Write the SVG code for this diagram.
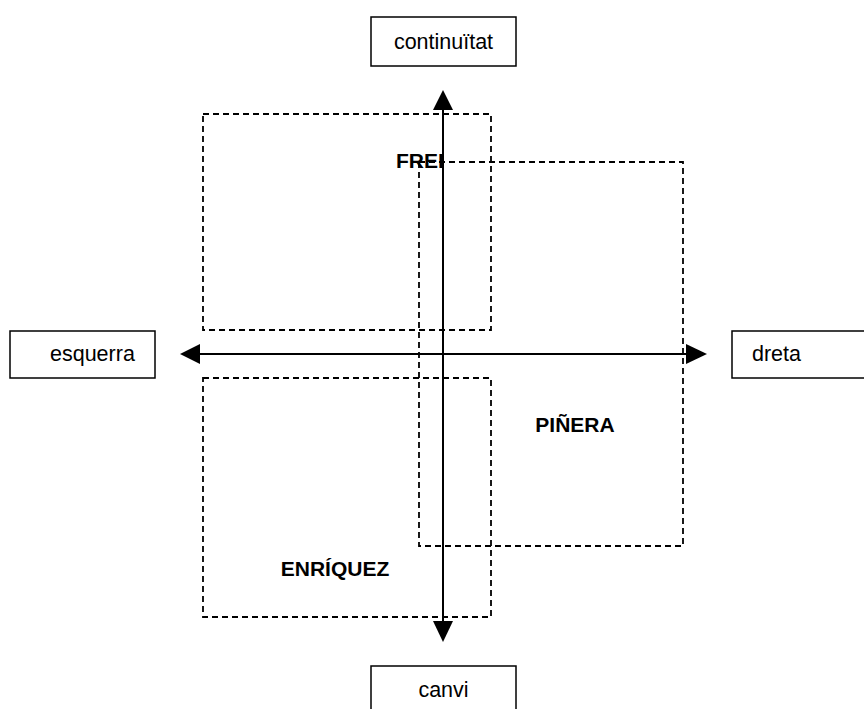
<svg xmlns="http://www.w3.org/2000/svg" width="864" height="709" viewBox="0 0 864 709">
<style>
.box{fill:#fff;stroke:#000;stroke-width:1.5}
.dash{fill:none;stroke:#000;stroke-width:1.8;stroke-dasharray:6 4}
.t{font-family:"Liberation Sans",Arial,sans-serif;font-size:21.5px;fill:#000}
.b{font-family:"Liberation Sans",Arial,sans-serif;font-size:21px;font-weight:bold;fill:#000}
.axis{stroke:#000;stroke-width:2;fill:none}
.head{fill:#000}
</style>
<rect width="864" height="709" fill="#fff"/>
<g id="label-frei"><text class="b" x="396" y="168">FREI</text></g>
<g id="label-pinera"><text class="b" x="575" y="432" text-anchor="middle">PIÑERA</text></g>
<g id="label-enriquez"><text class="b" x="335" y="576" text-anchor="middle">ENRÍQUEZ</text></g>
<g id="region-frei"><rect class="dash" x="203" y="114" width="288" height="216"/></g>
<g id="region-pinera"><rect class="dash" x="419" y="162" width="264" height="384"/></g>
<g id="region-enriquez"><rect class="dash" x="203" y="378" width="288" height="239"/></g>
<g id="node-continuitat"><rect class="box" x="371" y="17" width="145" height="49"/><text class="t" x="443.5" y="49" text-anchor="middle">continuïtat</text></g>
<g id="node-canvi"><rect class="box" x="371" y="666" width="145" height="60"/><text class="t" x="443.5" y="697" text-anchor="middle">canvi</text></g>
<g id="node-esquerra"><rect class="box" x="10" y="331" width="145" height="47"/><text class="t" x="50" y="361">esquerra</text></g>
<g id="node-dreta"><rect class="box" x="732" y="331" width="145" height="47"/><text class="t" x="752" y="361">dreta</text></g>
<g id="connectors">
<line class="axis" x1="443" y1="108" x2="443" y2="623"/>
<line class="axis" x1="198" y1="354" x2="688" y2="354"/>
<polygon class="head" points="443,90 453,110 433,110"/>
<polygon class="head" points="443,642 453,621 433,621"/>
<polygon class="head" points="180,354 200,344 200,364"/>
<polygon class="head" points="707,354 686,344 686,364"/>
</g>
</svg>
